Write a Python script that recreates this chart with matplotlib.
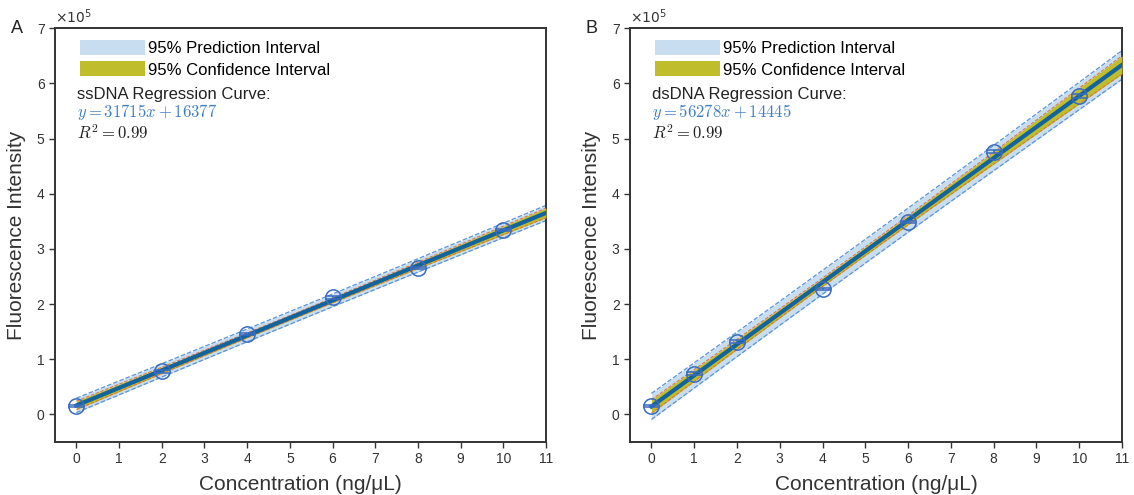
import numpy as np
import matplotlib
matplotlib.use('Agg')
import matplotlib.pyplot as plt
from matplotlib.patches import Patch

plt.rcParams['font.family'] = ['Liberation Sans', 'DejaVu Sans']
plt.rcParams['mathtext.fontset'] = 'cm'

# ssDNA data (fluorescence in units of 1e5)
ss_conc = [0, 2, 4, 6, 8, 10]
ss_fluor = [0.16, 0.78, 1.46, 2.12, 2.66, 3.35]
ss_err = [0.02, 0.02, 0.02, 0.02, 0.02, 0.02]
ss_slope = 31715
ss_icept = 16377

# dsDNA data
ds_conc = [0, 1, 2, 4, 6, 8, 10]
ds_fluor = [0.15, 0.74, 1.32, 2.28, 3.49, 4.76, 5.77]
ds_err = [0.02, 0.03, 0.03, 0.02, 0.02, 0.03, 0.04]
ds_slope = 56278
ds_icept = 14445

# two-sided 95% t values for n-2 degrees of freedom
t_crit = {4: 2.776, 5: 2.571}

x_ticks = list(range(0, 12))
y_ticks = list(range(0, 8))

PRED_FILL = '#c9ddf0'
PRED_EDGE = '#5b95d6'
CONF_FILL = '#bfbd2c'
CONF_EDGE = '#e0713a'
LINE_COL = '#13639c'
MARK_COL = '#3a6cc0'
EQ_COL = '#3f7fc4'


def panel(ax, x, y, err, slope, icept, name, letter):
    x = np.array(x, float)
    y = np.array(y, float)
    b1 = slope / 1e5
    b0 = icept / 1e5
    n = len(x)
    resid = y - (b0 + b1 * x)
    s = np.sqrt(np.sum(resid ** 2) / (n - 2))
    sxx = np.sum((x - x.mean()) ** 2)
    t = t_crit[n - 2]

    xs = np.linspace(0, 11, 200)
    fit = b0 + b1 * xs
    lev = 1 / n + (xs - x.mean()) ** 2 / sxx
    pred = t * s * np.sqrt(1 + lev)
    conf = t * s * np.sqrt(lev)

    ax.fill_between(xs, fit - pred, fit + pred, color=PRED_FILL, lw=0, zorder=1)
    ax.plot(xs, fit + pred, '--', color=PRED_EDGE, lw=0.9, zorder=2)
    ax.plot(xs, fit - pred, '--', color=PRED_EDGE, lw=0.9, zorder=2)
    ax.fill_between(xs, fit - conf, fit + conf, color=CONF_FILL, lw=0, zorder=3)
    ax.plot(xs, fit + conf, '--', color=CONF_EDGE, lw=0.7, zorder=4)
    ax.plot(xs, fit - conf, '--', color=CONF_EDGE, lw=0.7, zorder=4)
    ax.plot(xs, fit, '-', color=LINE_COL, lw=3, zorder=5)
    ax.errorbar(x, y, yerr=err, fmt='o', ms=11, mfc='none', mec=MARK_COL,
                mew=1.1, ecolor=MARK_COL, elinewidth=1.1, capsize=5.5,
                capthick=1.1, zorder=6)

    ax.set_xlim(-0.5, 11)
    ax.set_ylim(-0.5, 7)
    ax.set_xticks(x_ticks)
    ax.set_yticks(y_ticks)
    ax.tick_params(direction='out', length=4, width=1, labelsize=10,
                   colors='#333333', top=False, right=False)
    for sp in ax.spines.values():
        sp.set_linewidth(1.4)
        sp.set_color('#333333')
    ax.set_xlabel('Concentration (ng/μL)', fontsize=15, color='#333333', labelpad=6)
    ax.set_ylabel('Fluorescence Intensity', fontsize=15, color='#333333', labelpad=8)

    handles = [Patch(facecolor=PRED_FILL, edgecolor='none'),
               Patch(facecolor=CONF_FILL, edgecolor='none')]
    ax.legend(handles, ['95% Prediction Interval', '95% Confidence Interval'],
              loc='upper left', bbox_to_anchor=(0.03, 0.995), frameon=False,
              fontsize=12, handlelength=3.9, handleheight=1.0,
              handletextpad=0.2, labelspacing=0.3, borderaxespad=0.2)
    ax.text(0.045, 0.840, name + ' Regression Curve:', transform=ax.transAxes,
            fontsize=12, color='#222222', va='center')
    ax.text(0.045, 0.798, r'$y = %dx + %d$' % (slope, icept), transform=ax.transAxes,
            fontsize=12, color=EQ_COL, va='center')
    ax.text(0.045, 0.748, r'$R^2 = 0.99$', transform=ax.transAxes,
            fontsize=12, color='#222222', va='center')
    ax.text(0.0, 1.005, r'$\times10^5$', transform=ax.transAxes, fontsize=10,
            color='#333333', ha='left', va='bottom', family='DejaVu Sans',
            math_fontfamily='dejavusans')
    ax.text(-0.09, 1.0, letter, transform=ax.transAxes, fontsize=13,
            color='#222222', ha='left', va='center')


fig = plt.figure(figsize=(11.34, 4.95), dpi=100)
ax1 = fig.add_axes([0.0485, 0.107, 0.433, 0.836])
ax2 = fig.add_axes([0.5556, 0.107, 0.4338, 0.836])

panel(ax1, ss_conc, ss_fluor, ss_err, ss_slope, ss_icept, 'ssDNA', 'A')
panel(ax2, ds_conc, ds_fluor, ds_err, ds_slope, ds_icept, 'dsDNA', 'B')

fig.savefig('out.png', dpi=100)
